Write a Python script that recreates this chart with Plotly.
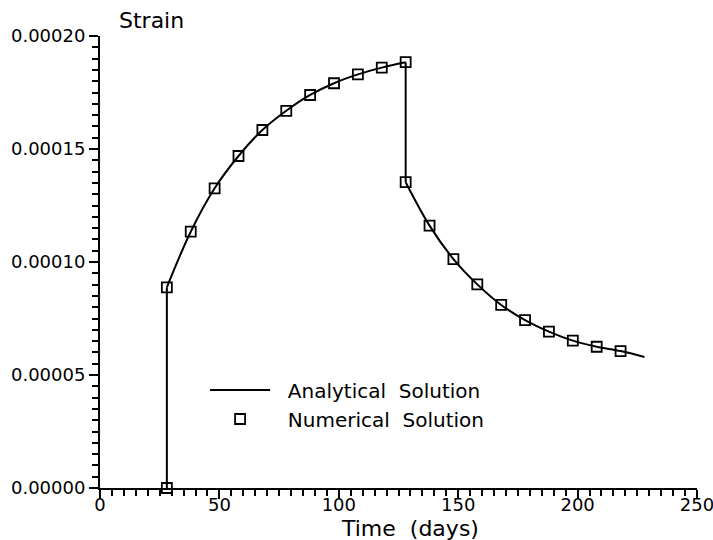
import plotly.graph_objects as go

# Data
t_load = [28, 38, 48, 58, 68, 78, 88, 98, 108, 118, 128]
strain_load = [8.88e-5, 1.134e-4, 1.326e-4, 1.469e-4, 1.584e-4, 1.669e-4,
               1.739e-4, 1.791e-4, 1.830e-4, 1.860e-4, 1.884e-4]
t_unload = [128, 138, 148, 158, 168, 178, 188, 198, 208, 218, 228]
strain_unload = [1.353e-4, 1.161e-4, 1.013e-4, 9.01e-5, 8.10e-5, 7.43e-5,
                 6.92e-5, 6.52e-5, 6.25e-5, 6.06e-5, 5.80e-5]
t_start = 28
strain_start = 0.0

x_ticks = [0, 50, 100, 150, 200, 250]
y_ticks = [0.0, 0.00005, 0.00010, 0.00015, 0.00020]

FONT = "DejaVu Sans"
NB = "\u00a0"

fig = go.Figure()

# Analytical solution: loading branch
fig.add_trace(go.Scatter(
    x=t_load, y=strain_load, mode="lines", line=dict(color="black", width=2, shape="spline"),
    name=NB + NB + "Analytical" + NB + NB + "Solution", legendgroup="a", showlegend=True,
))
# Jumps (instantaneous loading / unloading)
fig.add_trace(go.Scatter(
    x=[t_start, t_load[0], None, t_load[-1], t_unload[0]],
    y=[strain_start, strain_load[0], None, strain_load[-1], strain_unload[0]],
    mode="lines", line=dict(color="black", width=2), legendgroup="a", showlegend=False,
))
# Analytical solution: recovery branch
fig.add_trace(go.Scatter(
    x=t_unload, y=strain_unload, mode="lines", line=dict(color="black", width=2, shape="spline"),
    legendgroup="a", showlegend=False,
))
# Numerical solution markers
fig.add_trace(go.Scatter(
    x=[t_start] + t_load + t_unload[:-1],
    y=[strain_start] + strain_load + strain_unload[:-1],
    mode="markers",
    marker=dict(symbol="square-open", size=10, color="black", line=dict(width=1.8, color="black")),
    name=NB + NB + "Numerical" + NB + NB + "Solution", cliponaxis=False,
))

fig.update_layout(
    width=713, height=540,
    margin=dict(l=100, r=16, t=36, b=52, autoexpand=False),
    paper_bgcolor="white", plot_bgcolor="white",
    font=dict(family=FONT, color="black", size=18),
    showlegend=True,
    legend=dict(x=0.176, y=0.26, xanchor="left", yanchor="top",
                bgcolor="rgba(0,0,0,0)", font=dict(size=20, family=FONT),
                itemwidth=60, tracegroupgap=0),
    xaxis=dict(range=[0, 250], tickvals=x_ticks, ticktext=[str(v) for v in x_ticks],
               showline=True, linecolor="black", linewidth=2, showgrid=False, zeroline=False,
               ticks="outside", ticklen=9, tickwidth=1.5, tickcolor="black",
               minor=dict(dtick=5, ticks="outside", ticklen=6, tickwidth=1.5, tickcolor="black", showgrid=False),
               tickfont=dict(size=18), ticklabeloverflow="allow", automargin=False,
               ticklabelstandoff=-10),
    yaxis=dict(range=[0, 0.0002], tickvals=y_ticks, ticktext=["%.5f" % v for v in y_ticks],
               showline=True, linecolor="black", linewidth=2, showgrid=False, zeroline=False,
               ticks="outside", ticklen=9, tickwidth=1.5, tickcolor="black",
               minor=dict(dtick=0.000005, ticks="outside", ticklen=6, tickwidth=1.5, tickcolor="black", showgrid=False),
               tickfont=dict(size=18), ticklabeloverflow="allow", automargin=False),
    annotations=[
        dict(text="Strain", xref="paper", yref="paper", x=0.028, y=1, xanchor="left",
             yanchor="bottom", yshift=1, showarrow=False, font=dict(size=22, family=FONT)),
        dict(text="Time" + NB + NB + "(days)", xref="paper", yref="paper", x=0.52, y=0,
             xanchor="center", yanchor="top", yshift=-26, showarrow=False,
             font=dict(size=22, family=FONT)),
    ],
)

fig.write_html("out.html")
